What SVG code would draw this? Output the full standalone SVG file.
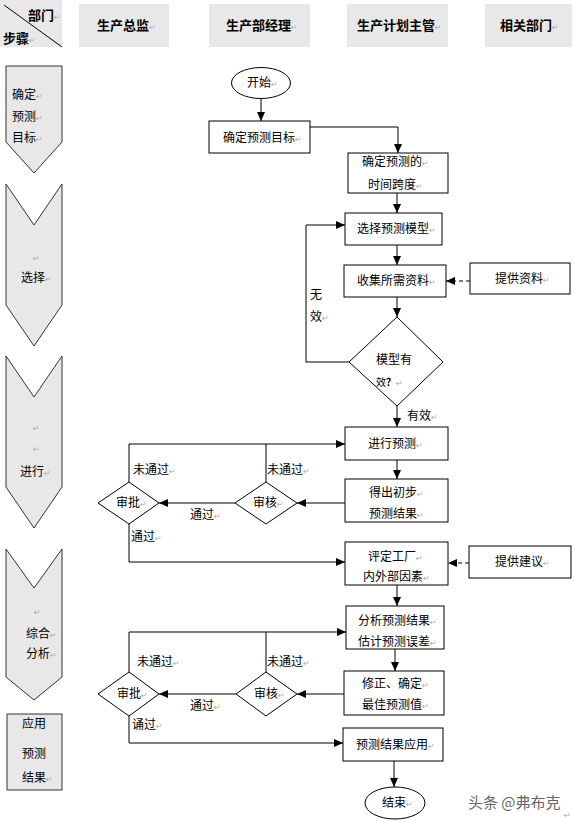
<svg xmlns="http://www.w3.org/2000/svg" width="574" height="821" viewBox="0 0 574 821">
<defs>
<marker id="ah" markerUnits="userSpaceOnUse" markerWidth="9" markerHeight="8" refX="9" refY="4" orient="auto">
<path d="M0,0 L9,4 L0,8 z" fill="#000"/>
</marker>
</defs>
<style>
text{font-family:"Noto Sans CJK SC","Liberation Sans",sans-serif;font-size:12px;fill:#000}
.h{font-size:13px;font-weight:bold}
.pm{font-size:8px;fill:#aaa;font-family:"DejaVu Sans",sans-serif;font-weight:normal}
.hd{fill:#e8e8e8;stroke:none}
.st{fill:#e8e8e8;stroke:#333;stroke-width:1}
.bx{fill:#fff;stroke:#000;stroke-width:1}
.ln{fill:none;stroke:#000;stroke-width:1}
.ar{fill:none;stroke:#000;stroke-width:1;marker-end:url(#ah)}
.da{fill:none;stroke:#000;stroke-width:1;stroke-dasharray:4,3;marker-end:url(#ah)}
.wm{font-size:15px;fill:#666}
</style>
<rect width="574" height="821" fill="#fff"/>

<g id="header">
<rect class="hd" x="0" y="0" width="62" height="47"/>
<line class="ln" x1="4" y1="5" x2="62" y2="47" stroke="#222"/>
<text class="h" x="28" y="20">部门<tspan class="pm">↵</tspan></text>
<text class="h" x="3" y="43">步骤<tspan class="pm">↵</tspan></text>
<rect class="hd" x="79" y="4" width="90" height="43"/>
<text class="h" x="97" y="30">生产总监<tspan class="pm">↵</tspan></text>
<rect class="hd" x="209" y="4" width="101" height="43"/>
<text class="h" x="226" y="30">生产部经理<tspan class="pm">↵</tspan></text>
<rect class="hd" x="347" y="4" width="101" height="43"/>
<text class="h" x="357" y="30">生产计划主管<tspan class="pm">↵</tspan></text>
<rect class="hd" x="485" y="4" width="87" height="43"/>
<text class="h" x="500" y="30">相关部门<tspan class="pm">↵</tspan></text>
</g>

<g id="step1">
<polygon class="st" points="6,66 62,66 62,142 34,173 6,142"/>
<text x="12" y="99">确定<tspan class="pm">↵</tspan></text>
<text x="12" y="121">预测<tspan class="pm">↵</tspan></text>
<text x="12" y="142">目标<tspan class="pm">↵</tspan></text>
</g>
<g id="step2">
<polygon class="st" points="6,184 34,225 62,184 62,305 34,346 6,305"/>
<text class="pm" x="33" y="261">↵</text>
<text x="21" y="282">选择<tspan class="pm">↵</tspan></text>
</g>
<g id="step3">
<polygon class="st" points="6,356 34,397 62,356 62,487 34,528 6,487"/>
<text class="pm" x="33" y="431">↵</text>
<text class="pm" x="33" y="452">↵</text>
<text x="20" y="476">进行<tspan class="pm">↵</tspan></text>
</g>
<g id="step4">
<polygon class="st" points="6,549 34,588 62,549 62,677 34,700 6,677"/>
<text class="pm" x="34" y="615">↵</text>
<text x="26" y="638">综合<tspan class="pm">↵</tspan></text>
<text x="26" y="658">分析<tspan class="pm">↵</tspan></text>
</g>
<g id="step5">
<rect class="st" x="7" y="714" width="55" height="76"/>
<text x="22" y="728">应用</text>
<text x="22" y="758">预测</text>
<text x="22" y="782">结果<tspan class="pm">↵</tspan></text>
</g>

<g id="connectors">
<path class="ar" d="M261,98.5 V121"/>
<path class="ar" d="M310,127 H398 V153"/>
<path class="ar" d="M397,193 V213"/>
<path class="ar" d="M397,245 V265"/>
<path class="da" d="M470,281 H446"/>
<path class="ar" d="M397,297 V317"/>
<path class="ar" d="M349,362 H306 V225 H345"/>
<path class="ar" d="M397,406 V427"/>
<path class="ar" d="M397,460 V479"/>
<path class="ar" d="M345,503 H297"/>
<path class="ar" d="M235,503 H159"/>
<path class="ln" d="M266,482 V444"/>
<path class="ar" d="M129,482 V444 H345"/>
<path class="ar" d="M129,524 V562 H345"/>
<path class="da" d="M469,563 H448"/>
<path class="ar" d="M397,585 V606"/>
<path class="ar" d="M395,649 V671"/>
<path class="ar" d="M344,694 H297"/>
<path class="ar" d="M236,694 H159"/>
<path class="ln" d="M266,672 V632"/>
<path class="ar" d="M129,672 V632 H346"/>
<path class="ar" d="M129,716 V743 H343"/>
<path class="ar" d="M394,761 V787"/>
<text x="310" y="299">无</text>
<text x="310" y="321">效<tspan class="pm">↵</tspan></text>
<text x="407" y="420">有效<tspan class="pm">↵</tspan></text>
<text x="133" y="474">未通过<tspan class="pm">↵</tspan></text>
<text x="267" y="474">未通过<tspan class="pm">↵</tspan></text>
<text x="190" y="519">通过<tspan class="pm">↵</tspan></text>
<text x="131" y="541">通过<tspan class="pm">↵</tspan></text>
<text x="137" y="666">未通过<tspan class="pm">↵</tspan></text>
<text x="267" y="666">未通过<tspan class="pm">↵</tspan></text>
<text x="190" y="710">通过<tspan class="pm">↵</tspan></text>
<text x="132" y="729">诵过<tspan class="pm">↵</tspan></text>
</g>

<g id="start">
<ellipse class="bx" cx="261" cy="83" rx="29.5" ry="15.5"/>
<text x="247" y="87">开始<tspan class="pm">↵</tspan></text>
</g>
<g id="n-target">
<rect class="bx" x="209" y="121" width="101" height="32"/>
<text x="223" y="142">确定预测目标<tspan class="pm">↵</tspan></text>
</g>
<g id="n-span">
<rect class="bx" x="348" y="153" width="100" height="40"/>
<text x="362" y="166">确定预测的<tspan class="pm">↵</tspan></text>
<text x="368" y="189">时间跨度<tspan class="pm">↵</tspan></text>
</g>
<g id="n-model">
<rect class="bx" x="345" y="213" width="97" height="32"/>
<text x="357" y="233">选择预测模型<tspan class="pm">↵</tspan></text>
</g>
<g id="n-collect">
<rect class="bx" x="344" y="265" width="102" height="32"/>
<text x="357" y="285">收集所需资料<tspan class="pm">↵</tspan></text>
</g>
<g id="n-data">
<rect class="bx" x="470" y="263" width="100" height="31"/>
<text x="495" y="283">提供资料<tspan class="pm">↵</tspan></text>
</g>
<g id="d-valid">
<polygon class="bx" points="397,317 443,362 397,406 349,362"/>
<text x="376" y="364">模型有</text>
<text x="376" y="386" style="font-size:10px">效<tspan style="font-weight:bold">？</tspan><tspan class="pm">↵</tspan></text>
</g>
<g id="n-forecast">
<rect class="bx" x="345" y="427" width="103" height="33"/>
<text x="368" y="448">进行预测<tspan class="pm">↵</tspan></text>
</g>
<g id="n-prelim">
<rect class="bx" x="345" y="479" width="103" height="43"/>
<text x="369" y="497">得出初步<tspan class="pm">↵</tspan></text>
<text x="369" y="518">预测结果<tspan class="pm">↵</tspan></text>
</g>
<g id="d-review1">
<polygon class="bx" points="266,482 297,503 266,524 235,503"/>
<text x="253" y="507">审核<tspan class="pm">↵</tspan></text>
</g>
<g id="d-approve1">
<polygon class="bx" points="129,482 159,503 129,524 98,503"/>
<text x="116" y="507">审批<tspan class="pm">↵</tspan></text>
</g>
<g id="n-assess">
<rect class="bx" x="345" y="542" width="103" height="43"/>
<text x="368" y="561">评定工厂<tspan class="pm">↵</tspan></text>
<text x="363" y="581">内外部因素<tspan class="pm">↵</tspan></text>
</g>
<g id="n-advice">
<rect class="bx" x="469" y="546" width="102" height="32"/>
<text x="495" y="566">提供建议<tspan class="pm">↵</tspan></text>
</g>
<g id="n-analyse">
<rect class="bx" x="346" y="606" width="98" height="43"/>
<text x="358" y="625">分析预测结果<tspan class="pm">↵</tspan></text>
<text x="358" y="646">估计预测误差<tspan class="pm">↵</tspan></text>
</g>
<g id="n-correct">
<rect class="bx" x="344" y="671" width="100" height="44"/>
<text x="362" y="688">修正、确定<tspan class="pm">↵</tspan></text>
<text x="362" y="709">最佳预测值<tspan class="pm">↵</tspan></text>
</g>
<g id="d-review2">
<polygon class="bx" points="266,672 297,694 266,716 236,694"/>
<text x="254" y="698">审核<tspan class="pm">↵</tspan></text>
</g>
<g id="d-approve2">
<polygon class="bx" points="129,672 159,694 129,716 98,694"/>
<text x="117" y="698">审批<tspan class="pm">↵</tspan></text>
</g>
<g id="n-apply">
<rect class="bx" x="343" y="728" width="100" height="33"/>
<text x="356" y="749">预测结果应用<tspan class="pm">↵</tspan></text>
</g>
<g id="end">
<ellipse class="bx" cx="395" cy="803" rx="30" ry="16"/>
<text x="382" y="807">结束<tspan class="pm">↵</tspan></text>
</g>
<text class="wm" x="468" y="808">头条 @弗布克</text>
<text class="pm" x="564" y="818">↵</text>
</svg>
